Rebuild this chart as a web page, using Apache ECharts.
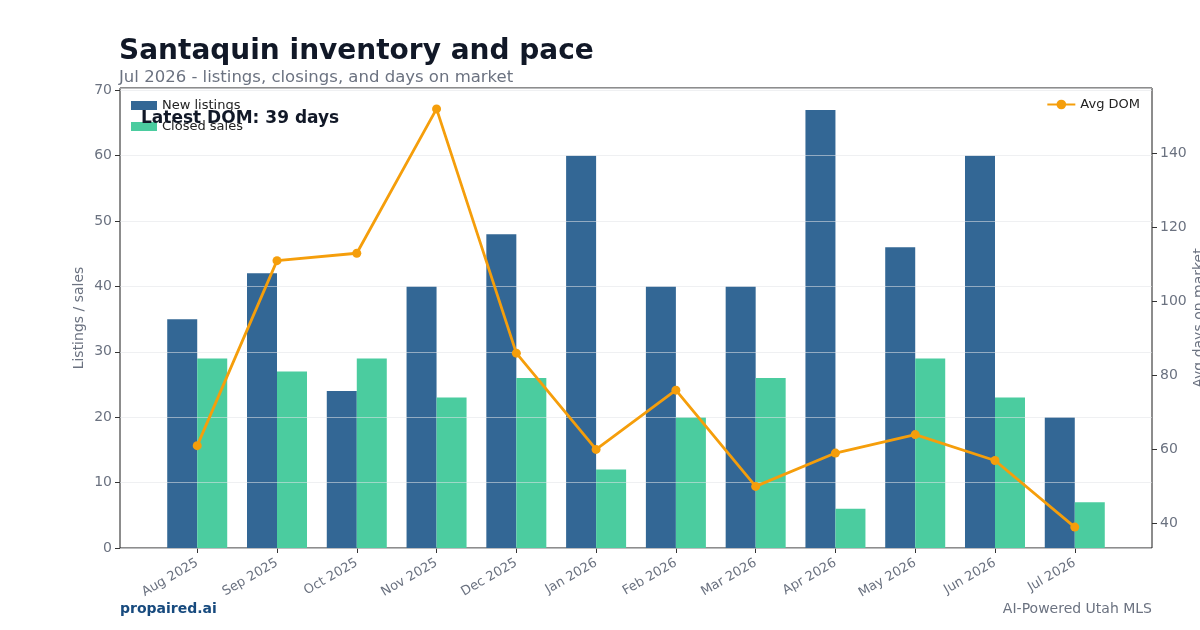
<!DOCTYPE html>
<html>
<head>
<meta charset="utf-8">
<script src="https://cdn.jsdelivr.net/npm/echarts@6/dist/echarts.min.js"></script>
<style>
  html, body { margin: 0; padding: 0; background: #fff; }
  #chart { width: 1200px; height: 630px; }
</style>
</head>
<body>
<div id="chart"></div>
<script>
const months = ['Aug 2025', 'Sep 2025', 'Oct 2025', 'Nov 2025', 'Dec 2025', 'Jan 2026',
  'Feb 2026', 'Mar 2026', 'Apr 2026', 'May 2026', 'Jun 2026', 'Jul 2026'];
const newListings = [35, 42, 24, 40, 48, 60, 40, 40, 67, 46, 60, 20];
const closedSales = [29, 27, 29, 23, 26, 12, 20, 26, 6, 29, 23, 7];
const avgDom = [61, 111, 113, 152, 86, 60, 76, 50, 59, 64, 57, 39];
const domTicks = [40, 60, 80, 100, 120, 140];

const font = 'DejaVu Sans';
const gray = '#6b7280';
const idx = months.map((m, i) => i);

const chart = echarts.init(document.getElementById('chart'), null, { renderer: 'canvas' });

chart.setOption({
  backgroundColor: '#fff',
  animation: false,
  textStyle: { fontFamily: font },
  title: [
    {
      text: 'Santaquin inventory and pace',
      left: 119, top: 38, padding: 0,
      textStyle: { fontFamily: font, fontSize: 28, fontWeight: 'bold', color: '#111827' },
    },
    {
      text: 'Jul 2026 - listings, closings, and days on market',
      left: 119, top: 69, padding: 0,
      textStyle: { fontFamily: font, fontSize: 16.5, fontWeight: 'normal', color: gray },
    },
  ],
  legend: [
    {
      data: ['New listings', 'Closed sales'],
      orient: 'vertical',
      left: 131, top: 99, padding: 0,
      itemWidth: 26, itemHeight: 9, itemGap: 8,
      icon: 'rect',
      textStyle: { fontFamily: font, fontSize: 13, color: '#222' },
    },
    {
      data: ['Avg DOM'],
      right: 60, top: 98, padding: 0,
      itemWidth: 28, itemHeight: 12,
      textStyle: { fontFamily: font, fontSize: 13, color: '#222' },
    },
  ],
  grid: {
    left: 120, right: 48, top: 88, bottom: 82,
    outerBoundsMode: 'none',
    show: true, borderColor: '#1a1a1a', borderWidth: 1,
  },
  xAxis: {
    type: 'value',
    min: -0.968, max: 11.968,
    axisLine: { show: false, onZero: false },
    splitLine: { show: false },
    axisTick: { show: true, customValues: idx, length: 5, lineStyle: { color: '#333' } },
    axisLabel: {
      customValues: idx,
      formatter: v => months[Math.round(v)],
      rotate: 30, fontSize: 13, color: gray, fontFamily: font, margin: 14,
    },
  },
  yAxis: [
    {
      type: 'value',
      min: 0, max: 70.35, interval: 10,
      z: 5,
      name: 'Listings / sales', nameLocation: 'middle', nameGap: 34, nameRotate: 90,
      nameMoveOverlap: false,
      nameTextStyle: { fontFamily: font, fontSize: 14, color: gray },
      axisLine: { show: false, onZero: false },
      axisTick: { show: true, length: 5, lineStyle: { color: '#333' } },
      axisLabel: { showMaxLabel: false, fontSize: 14, color: gray, fontFamily: font, margin: 8 },
      splitLine: { lineStyle: { color: 'rgba(225,228,232,0.55)', width: 1 } },
    },
    {
      type: 'value',
      min: 33.35, max: 157.65,
      position: 'right',
      name: 'Avg days on market', nameLocation: 'middle', nameGap: 40, nameRotate: 90,
      nameMoveOverlap: false,
      nameTextStyle: { fontFamily: font, fontSize: 14, color: gray },
      axisLine: { show: false, onZero: false },
      axisTick: { show: true, customValues: domTicks, length: 5, lineStyle: { color: '#333' } },
      axisLabel: { customValues: domTicks, fontSize: 14, color: gray, fontFamily: font, margin: 8 },
      splitLine: { show: false },
    },
  ],
  series: [
    {
      name: 'New listings',
      type: 'bar',
      data: newListings.map((v, i) => [i, v]),
      barWidth: 30, barGap: '0%',
      itemStyle: { color: '#336795' },
      z: 2,
    },
    {
      name: 'Closed sales',
      type: 'bar',
      data: closedSales.map((v, i) => [i, v]),
      barWidth: 30, barGap: '0%',
      itemStyle: { color: '#4bcc9f' },
      z: 2,
    },
    {
      name: 'Avg DOM',
      type: 'line',
      yAxisIndex: 1,
      data: avgDom.map((v, i) => [i, v]),
      symbol: 'circle', symbolSize: 9,
      lineStyle: { color: '#f59e0b', width: 2.8 },
      itemStyle: { color: '#f59e0b' },
      z: 10,
    },
  ],
  graphic: [
    {
      type: 'text', left: 141, top: 110, z: 100,
      style: { text: 'Latest DOM: 39 days', font: 'bold 17px "DejaVu Sans"', fill: '#111827' },
    },
    {
      type: 'text', left: 120, top: 602,
      style: { text: 'propaired.ai', font: 'bold 14px "DejaVu Sans"', fill: '#174a7e' },
    },
    {
      type: 'text', right: 48, top: 602,
      style: { text: 'AI-Powered Utah MLS', font: '14px "DejaVu Sans"', fill: gray },
    },
  ],
});
</script>
</body>
</html>
